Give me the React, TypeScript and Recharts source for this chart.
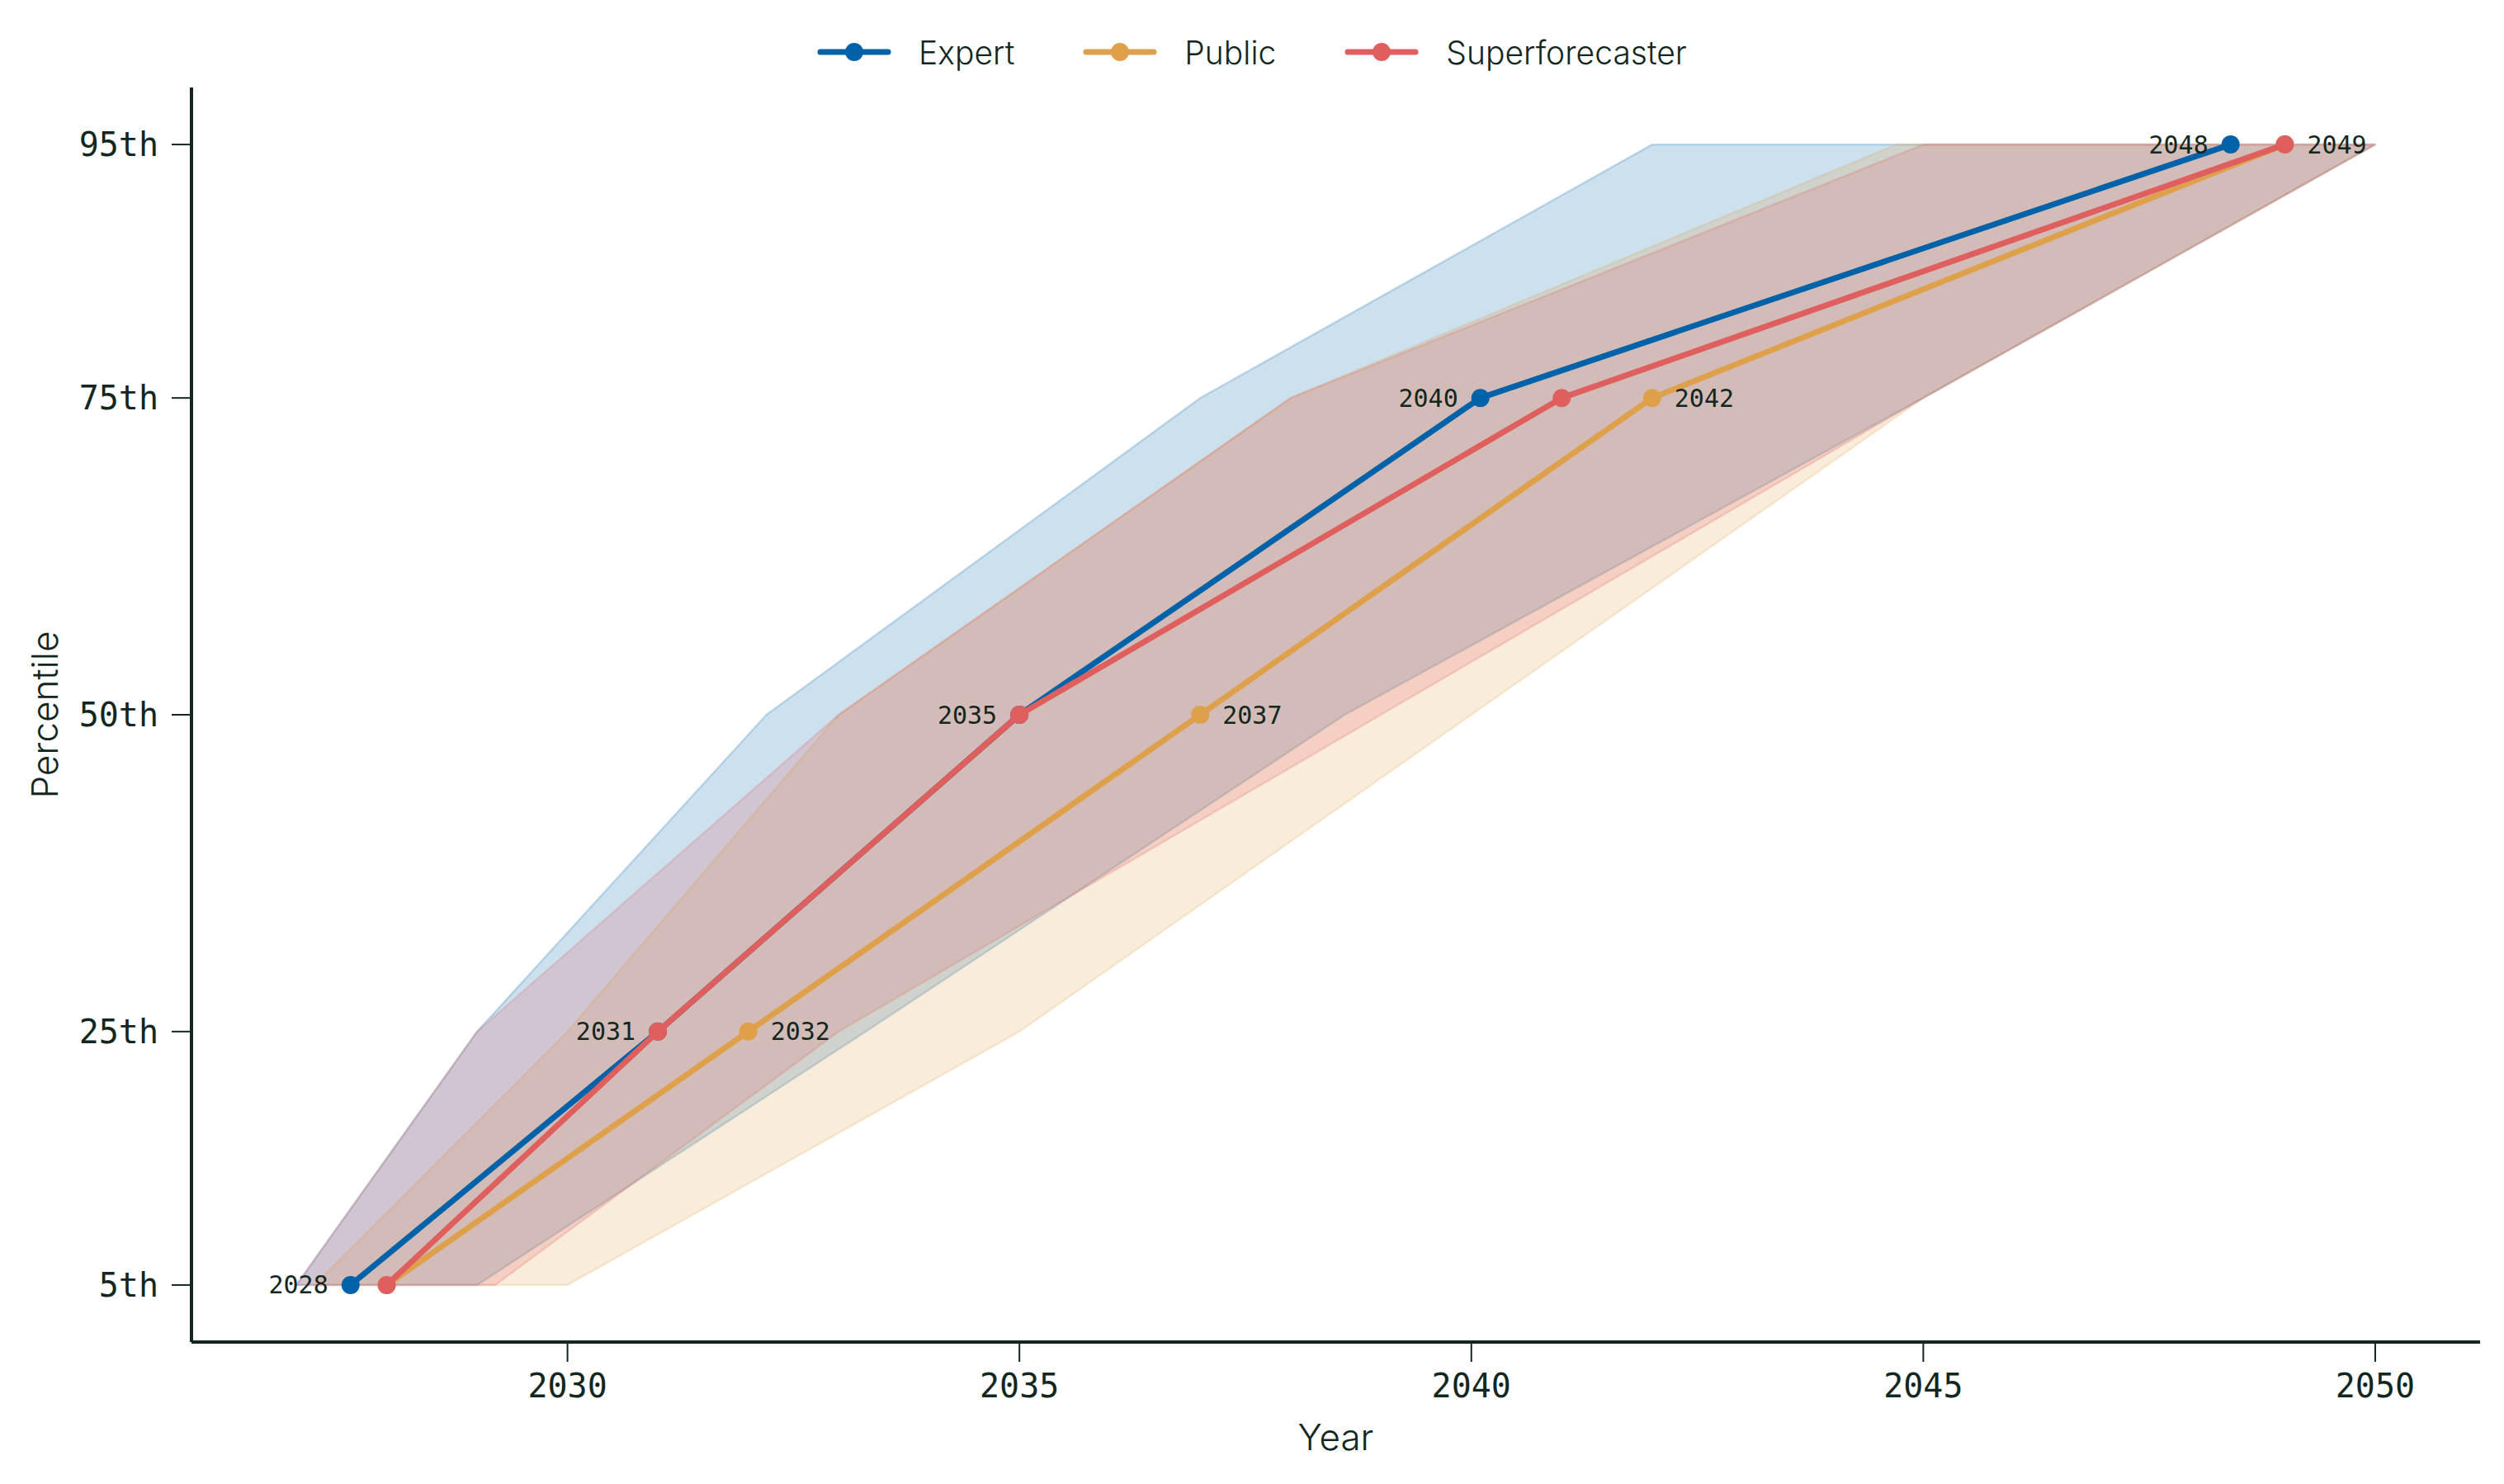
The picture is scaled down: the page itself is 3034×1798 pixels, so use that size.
import React from "react";
import { ScatterChart, Scatter, XAxis, YAxis, Label } from "recharts";

const W = 3034;
const H = 1798;
const INK = "#13271f";
const MONO = "'DejaVu Sans Mono', monospace";
const SANS = "Inter, 'Open Sans', sans-serif";

// percentile levels on the y axis
const percentiles = [5, 25, 50, 75, 95];
const yearTicks = [2030, 2035, 2040, 2045, 2050];

const groups = ["Expert", "Public", "Superforecaster"];
const groupColors = ["#0062a8", "#dfa04c", "#df5f5e"];

// median year at which each percentile is reached
const expertYears = [2027.6, 2031, 2035, 2040.1, 2048.4];
const publicYears = [2028, 2032, 2037, 2042, 2049];
const superYears = [2028, 2031, 2035, 2041, 2049];

// uncertainty range (earliest / latest year) for each percentile
const expertLow = [2027, 2029, 2032.2, 2037, 2042];
const expertHigh = [2029, 2033.3, 2038.6, 2045, 2050];
const publicLow = [2027.2, 2030, 2033, 2038, 2044.7];
const publicHigh = [2030, 2035, 2040, 2045, 2050];
const superLow = [2027, 2029, 2033, 2038, 2045];
const superHigh = [2029.2, 2033, 2039, 2045, 2050];

const centers = [expertYears, publicYears, superYears];
const lows = [expertLow, publicLow, superLow];
const highs = [expertHigh, publicHigh, superHigh];

type Pt = { year: number; pct: number; label?: string; side?: "left" | "right" };

const linePoints = (years: number[]): Pt[] =>
  years.map((y, i) => ({ year: y, pct: percentiles[i] }));

// closed polygon: low edge going up, high edge coming back down
const bandPoints = (low: number[], high: number[]): Pt[] => [
  ...low.map((y, i) => ({ year: y, pct: percentiles[i] })),
  ...high.map((y, i) => ({ year: y, pct: percentiles[i] })).reverse(),
];

// expert years annotated on the left, public on the right (skip duplicates)
const labelPoints: Pt[] = [
  ...expertYears.map((y, i) => ({
    year: y,
    pct: percentiles[i],
    label: String(Math.round(y)),
    side: "left" as const,
  })),
  ...publicYears
    .map((y, i) => ({
      year: y,
      pct: percentiles[i],
      label: String(Math.round(y)),
      side: "right" as const,
    }))
    .filter((p, i) => Math.round(expertYears[i]) !== Math.round(p.year)),
];

const bandShape = (color: string) => (props: any) => {
  const pts = props.points as { x: number; y: number }[];
  const d = pts.map((p, i) => `${i ? "L" : "M"}${p.x},${p.y}`).join("") + "Z";
  return (
    <path
      d={d}
      fill={color}
      fillOpacity={0.2}
      stroke={color}
      strokeOpacity={0.2}
      strokeWidth={2.5}
      strokeLinejoin="round"
    />
  );
};

const noDot = () => <g />;

const dot = (color: string) => (props: any) => (
  <circle cx={props.cx} cy={props.cy} r={11} fill={color} />
);

const yearText = (props: any) => {
  const { cx, cy, payload } = props;
  const left = payload.side === "left";
  return (
    <text
      x={left ? cx - 27 : cx + 27}
      y={cy}
      textAnchor={left ? "end" : "start"}
      dominantBaseline="central"
      fontFamily={MONO}
      fontSize={30}
      fill={INK}
    >
      {payload.label}
    </text>
  );
};

function LegendRow() {
  return (
    <div
      style={{
        position: "absolute",
        top: 43,
        left: 0,
        width: W,
        height: 40,
        display: "flex",
        justifyContent: "center",
        alignItems: "center",
        fontFamily: SANS,
        fontWeight: 300,
        fontSize: 39,
        color: INK,
      }}
    >
      {groups.map((g, i) => (
        <div
          key={g}
          style={{
            display: "flex",
            alignItems: "center",
            marginRight: i < groups.length - 1 ? 83 : 0,
          }}
        >
          <svg width={90} height={24} style={{ marginRight: 33 }}>
            <line x1={4} y1={12} x2={86} y2={12} stroke={groupColors[i]} strokeWidth={7} strokeLinecap="round" />
            <circle cx={45} cy={12} r={11} fill={groupColors[i]} />
          </svg>
          <span>{g}</span>
        </div>
      ))}
    </div>
  );
}

export default function App() {
  return (
    <div style={{ position: "absolute", left: 0, top: 0, width: W, height: H, background: "#fff" }}>
      <ScatterChart width={W} height={H} margin={{ top: 106, right: 29, bottom: 0, left: 0 }}>
        <XAxis
          type="number"
          dataKey="year"
          domain={[2025.84, 2051.16]}
          ticks={yearTicks}
          interval={0}
          allowDataOverflow
          height={172}
          tickSize={24}
          tickMargin={15}
          axisLine={{ stroke: INK, strokeWidth: 4 }}
          tickLine={{ stroke: INK, strokeWidth: 2 }}
          tick={{ fill: INK, fontFamily: MONO, fontSize: 40 }}
        >
          <Label
            content={(p: any) => (
              <text
                x={p.viewBox.x + p.viewBox.width / 2}
                y={p.viewBox.y + 115}
                textAnchor="middle"
                dominantBaseline="central"
                fontFamily={SANS}
                fontWeight={300}
                fontSize={44}
                fill={INK}
              >
                Year
              </text>
            )}
          />
        </XAxis>
        <YAxis
          type="number"
          dataKey="pct"
          domain={[0.5, 99.5]}
          ticks={percentiles}
          interval={0}
          allowDataOverflow
          width={232}
          tickSize={24}
          tickMargin={16}
          tickFormatter={(v: number) => `${v}th`}
          axisLine={{ stroke: INK, strokeWidth: 4 }}
          tickLine={{ stroke: INK, strokeWidth: 2 }}
          tick={{ fill: INK, fontFamily: MONO, fontSize: 40 }}
        >
          <Label
            content={(p: any) => {
              const cx = p.viewBox.x + 54;
              const cy = p.viewBox.y + p.viewBox.height / 2;
              return (
                <text
                  x={cx}
                  y={cy}
                  transform={`rotate(-90 ${cx} ${cy})`}
                  textAnchor="middle"
                  dominantBaseline="central"
                  fontFamily={SANS}
                  fontWeight={300}
                  fontSize={44}
                  fill={INK}
                >
                  Percentile
                </text>
              );
            }}
          />
        </YAxis>

        {groups.map((g, i) => (
          <Scatter
            key={`band-${g}`}
            name={`${g} range`}
            data={bandPoints(lows[i], highs[i])}
            fill={groupColors[i]}
            line={bandShape(groupColors[i])}
            lineType="joint"
            shape={noDot}
            isAnimationActive={false}
          />
        ))}

        {groups.map((g, i) => (
          <Scatter
            key={`line-${g}`}
            name={g}
            data={linePoints(centers[i])}
            fill={groupColors[i]}
            line={{ stroke: groupColors[i], strokeWidth: 7, strokeLinejoin: "round" }}
            lineType="joint"
            shape={dot(groupColors[i])}
            isAnimationActive={false}
          />
        ))}

        <Scatter
          name="year labels"
          data={labelPoints}
          fill={INK}
          shape={yearText}
          isAnimationActive={false}
        />
      </ScatterChart>
      <LegendRow />
    </div>
  );
}
